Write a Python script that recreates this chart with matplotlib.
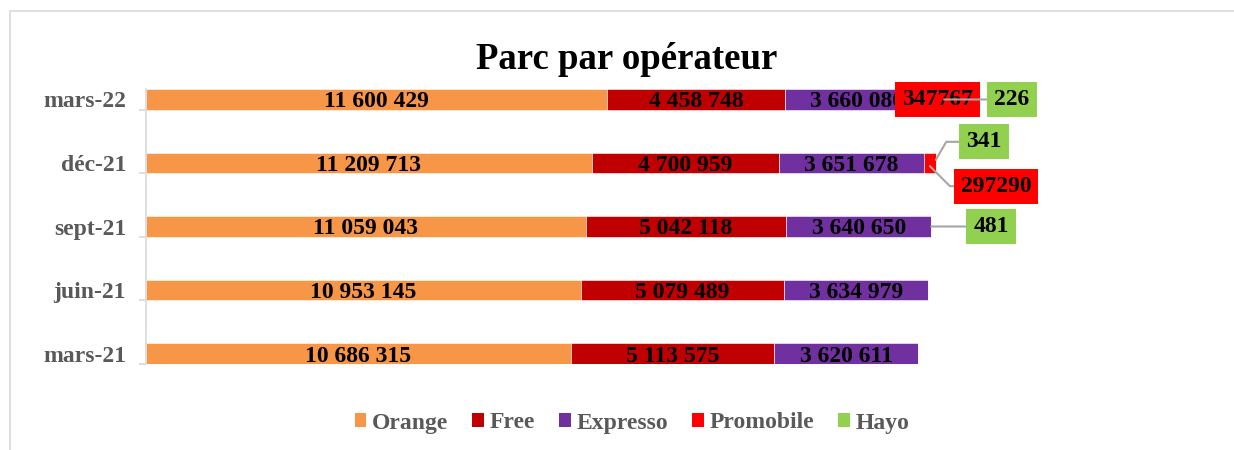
import matplotlib
matplotlib.use("Agg")
import matplotlib.pyplot as plt
from matplotlib.patches import Patch, Rectangle
import numpy as np

# ---- data ----
periods = ["mars-21", "juin-21", "sept-21", "déc-21", "mars-22"]
orange = [10686315, 10953145, 11059043, 11209713, 11600429]
free = [5113575, 5079489, 5042118, 4700959, 4458748]
expresso = [3620611, 3634979, 3640650, 3651678, 3660080]
promobile = [0, 0, 0, 297290, 347767]
hayo = [0, 0, 481, 341, 226]
operators = ["Orange", "Free", "Expresso", "Promobile", "Hayo"]
colors = ["#F79646", "#C00000", "#7030A0", "#FF0000", "#92D050"]
title = "Parc par opérateur"

W, H = 1234, 450
fig = plt.figure(figsize=(W / 100, H / 100), dpi=100)
SERIF = ["Liberation Serif", "DejaVu Serif"]


def px(x0, y0, x1, y1):
    return [x0 / W, 1 - y1 / H, (x1 - x0) / W, (y1 - y0) / H]


# chart border
fig.add_artist(Rectangle((10 / W, -0.1), 1.2, 1 - 11 / H + 0.1, transform=fig.transFigure,
                         fill=False, edgecolor="#D9D9D9", linewidth=1.2))

ax = fig.add_axes(px(145.5, 89, 1220, 364))
ax.set_xlim(0, 27e6)
ax.set_ylim(-0.165, 4.165)

y = np.arange(len(periods))
bh = 0.33
series = [orange, free, expresso, promobile, hayo]
left = np.zeros(len(periods))
lefts = []
for vals, c in zip(series, colors):
    ax.barh(y, vals, left=left, height=bh, color=c, edgecolor="white", linewidth=0.4)
    lefts.append(left.copy())
    left = left + np.array(vals)

fmt = lambda v: f"{v:,}".replace(",", " ")
for k in range(3):
    for i in range(len(periods)):
        ax.annotate(fmt(series[k][i]), xy=(lefts[k][i] + series[k][i] / 2, y[i]),
                    ha="center", va="center_baseline", fontsize=17, fontweight="bold",
                    family=SERIF, color="black", zorder=3)

pt = 0.72  # px -> points
line_c = "#A6A6A6"

cum_expr = lefts[3]
cum_promo = lefts[4]

# Promobile labels
i = 4
ax.annotate(str(promobile[i]), xy=(cum_expr[i] + promobile[i] / 2, y[i]), ha="center",
            va="center",
            fontsize=17, fontweight="bold", family=SERIF, color="black", zorder=5,
            bbox=dict(boxstyle="square,pad=0.3", fc=colors[3], ec="none"))
i = 3
ax.annotate(str(promobile[i]), xy=(cum_expr[i] + promobile[i] / 2, y[i] - 0.05),
            xytext=(66 * pt, -20 * pt), textcoords="offset points", ha="center",
            va="center",
            fontsize=17, fontweight="bold", family=SERIF, color="black", zorder=5,
            bbox=dict(boxstyle="square,pad=0.3", fc=colors[3], ec="none"),
            arrowprops=dict(arrowstyle="-", color=line_c, lw=1.5, shrinkA=0, shrinkB=0,
                            connectionstyle="angle,angleA=0,angleB=-45"))

# Hayo labels
hayo_offsets = {2: (60, 0), 3: (48, 18), 4: (68, 0)}
for i, (dx, dy) in hayo_offsets.items():
    cs = "arc3" if dy == 0 else "angle,angleA=0,angleB=60"
    ax.annotate(str(hayo[i]), xy=(cum_promo[i], y[i] + (0.05 if dy else 0)),
                xytext=(dx * pt, dy * pt), textcoords="offset points", ha="center",
                va="center",
                fontsize=17, fontweight="bold", family=SERIF, color="black", zorder=6,
                bbox=dict(boxstyle="square,pad=0.3", fc=colors[4], ec="none"),
                arrowprops=dict(arrowstyle="-", color=line_c, lw=1.5, shrinkA=0, shrinkB=0,
                                connectionstyle=cs))

# axes styling
for s in ["top", "right", "bottom"]:
    ax.spines[s].set_visible(False)
ax.spines["left"].set_color("#D9D9D9")
ax.spines["left"].set_linewidth(1.2)
ax.set_xticks([])
ax.set_yticks(y)
ax.set_yticklabels(periods, fontsize=17, fontweight="bold", family=SERIF, color="#595959")
ax.tick_params(axis="y", which="major", length=0, pad=14)
ax.set_yticks(y - 0.165, minor=True)
ax.tick_params(axis="y", which="minor", length=5, color="#D9D9D9", width=1.2)
ax.patch.set_alpha(0)

fig.text(627 / W, 1 - 69 / H, title, ha="center", va="baseline", fontsize=26.5,
         fontweight="bold", family=SERIF, color="black")

handles = [Patch(facecolor=c, edgecolor="none") for c in colors]
fig.legend(handles, operators, loc="center", bbox_to_anchor=(632 / W, 1 - 423 / H), ncol=5,
           frameon=False, prop=dict(family=SERIF, weight="bold", size=17), labelcolor="#595959",
           handlelength=0.5, handleheight=0.5, handletextpad=0.25, columnspacing=1.0)

fig.savefig("out.png", dpi=100)
